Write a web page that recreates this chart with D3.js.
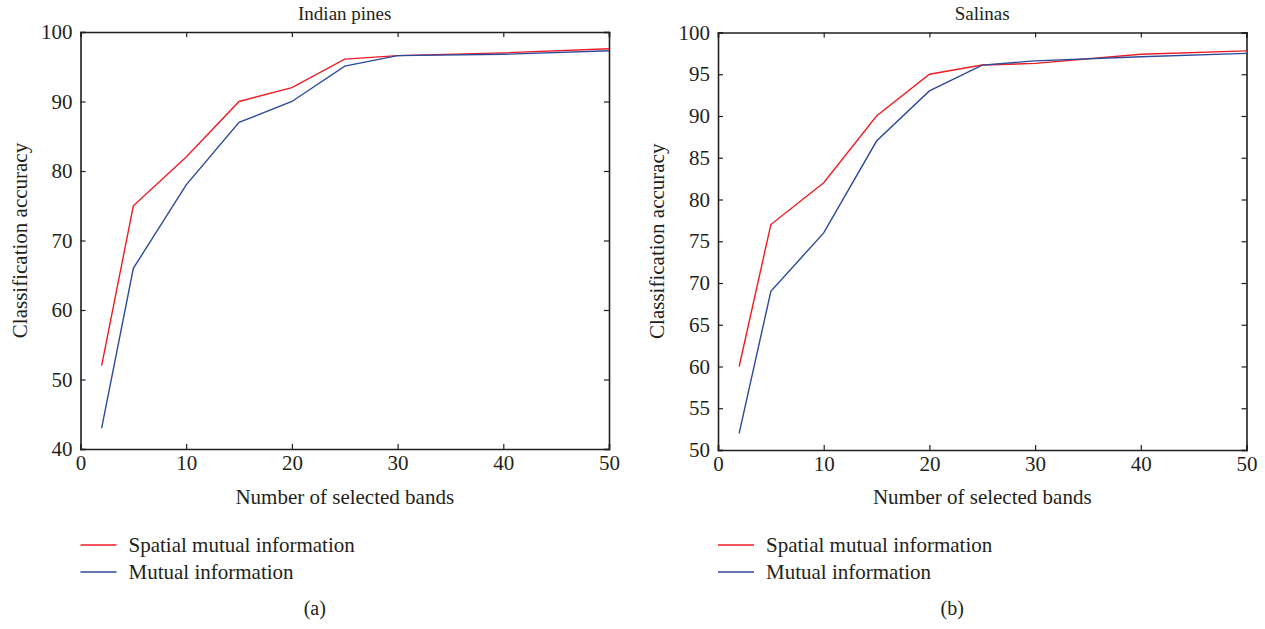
<!DOCTYPE html>
<html>
	<head>
		<meta charset="utf-8" />
		<title>Classification accuracy vs selected bands</title>
		<script src="https://d3js.org/d3.v7.min.js"></script>
		<style>
			body { margin: 0; background: #fff; }
			text { font-family: "Liberation Serif", "DejaVu Serif", serif; fill: #231f20; }
		</style>
	</head>
	<body>
		<svg width="1265" height="629"></svg>
		<script>
			// number of selected bands
			const bandsA = [2, 5, 10, 15, 20, 25, 30, 40, 50];
			const bandsB = [2, 5, 10, 15, 20, 25, 30, 40, 50];

			// Indian pines
			const spatialA = [52, 75, 82, 90, 92, 96.1, 96.6, 97.0, 97.6];
			const mutualA = [43, 66, 78, 87, 90, 95.1, 96.6, 96.8, 97.3];

			// Salinas
			const spatialB = [60, 77, 82, 90, 95, 96.1, 96.3, 97.4, 97.8];
			const mutualB = [52, 69, 76, 87, 93, 96.1, 96.6, 97.1, 97.5];

			const xTicks = [0, 10, 20, 30, 40, 50];
			const yTicksA = [40, 50, 60, 70, 80, 90, 100];
			const yTicksB = [50, 55, 60, 65, 70, 75, 80, 85, 90, 95, 100];

			const seriesNames = ["Spatial mutual information", "Mutual information"];
			const colors = ["#ee1d25", "#2c4a9c"];

			const svg = d3.select("svg");

			function drawPanel(opts) {
				const g = svg.append("g");
				const x = d3.scaleLinear().domain([0, 50]).range([opts.left, opts.right]);
				const y = d3.scaleLinear().domain(opts.yDomain).range([opts.bottom, opts.top]);

				// ticks on all four sides, pointing inward
				g.append("g")
					.attr("transform", `translate(0,${opts.bottom})`)
					.call(d3.axisBottom(x).tickValues(xTicks).tickSize(-5).tickPadding(6))
					.call(styleAxis);
				g.append("g")
					.attr("transform", `translate(0,${opts.top})`)
					.call(d3.axisTop(x).tickValues(xTicks).tickSize(-5).tickFormat(""))
					.call(styleAxis);
				g.append("g")
					.attr("transform", `translate(${opts.left},0)`)
					.call(d3.axisLeft(y).tickValues(opts.yTicks).tickSize(-5).tickPadding(8))
					.call(styleAxis);
				g.append("g")
					.attr("transform", `translate(${opts.right},0)`)
					.call(d3.axisRight(y).tickValues(opts.yTicks).tickSize(-5).tickFormat(""))
					.call(styleAxis);

				const line = d3.line()
					.x((d) => x(d[0]))
					.y((d) => y(d[1]));

				opts.series.forEach((vals, i) => {
					g.append("path")
						.attr("d", line(opts.bands.map((b, j) => [b, vals[j]])))
						.attr("fill", "none")
						.attr("stroke", colors[i])
						.attr("stroke-width", 1.4);
				});

				// title
				g.append("text")
					.attr("x", (opts.left + opts.right) / 2)
					.attr("y", 20)
					.attr("text-anchor", "middle")
					.style("font-size", "19px")
					.text(opts.title);

				// axis labels
				g.append("text")
					.attr("x", (opts.left + opts.right) / 2)
					.attr("y", 504)
					.attr("text-anchor", "middle")
					.style("font-size", "21px")
					.text("Number of selected bands");
				g.append("text")
					.attr("transform", `translate(${opts.left - 54},${(opts.top + opts.bottom) / 2}) rotate(-90)`)
					.attr("text-anchor", "middle")
					.style("font-size", "21px")
					.text("Classification accuracy");

				// legend
				seriesNames.forEach((name, i) => {
					const ly = 545 + i * 27;
					g.append("line")
						.attr("x1", opts.left)
						.attr("x2", opts.left + 36)
						.attr("y1", ly)
						.attr("y2", ly)
						.attr("stroke", colors[i])
						.attr("stroke-width", 1.4);
					g.append("text")
						.attr("x", opts.left + 48)
						.attr("y", ly + 7)
						.style("font-size", "21px")
						.text(name);
				});

				// panel letter
				g.append("text")
					.attr("x", (opts.left + opts.right) / 2 - 30)
					.attr("y", 615)
					.attr("text-anchor", "middle")
					.style("font-size", "20px")
					.text(opts.letter);
			}

			function styleAxis(sel) {
				sel.select(".domain").attr("stroke", "#231f20").attr("stroke-width", 1.6);
				sel.selectAll(".tick line").attr("stroke", "#231f20").attr("stroke-width", 1.2);
				sel.selectAll(".tick text")
					.style("font-size", "21px")
					.style("font-family", "'Liberation Serif', 'DejaVu Serif', serif")
					.attr("fill", "#231f20");
			}

			drawPanel({
				left: 80.5, right: 609, top: 32, bottom: 449,
				yDomain: [40, 100], yTicks: yTicksA,
				bands: bandsA, series: [spatialA, mutualA],
				title: "Indian pines", letter: "(a)"
			});
			drawPanel({
				left: 718, right: 1246.5, top: 32.5, bottom: 450,
				yDomain: [50, 100], yTicks: yTicksB,
				bands: bandsB, series: [spatialB, mutualB],
				title: "Salinas", letter: "(b)"
			});
		</script>
	</body>
</html>
